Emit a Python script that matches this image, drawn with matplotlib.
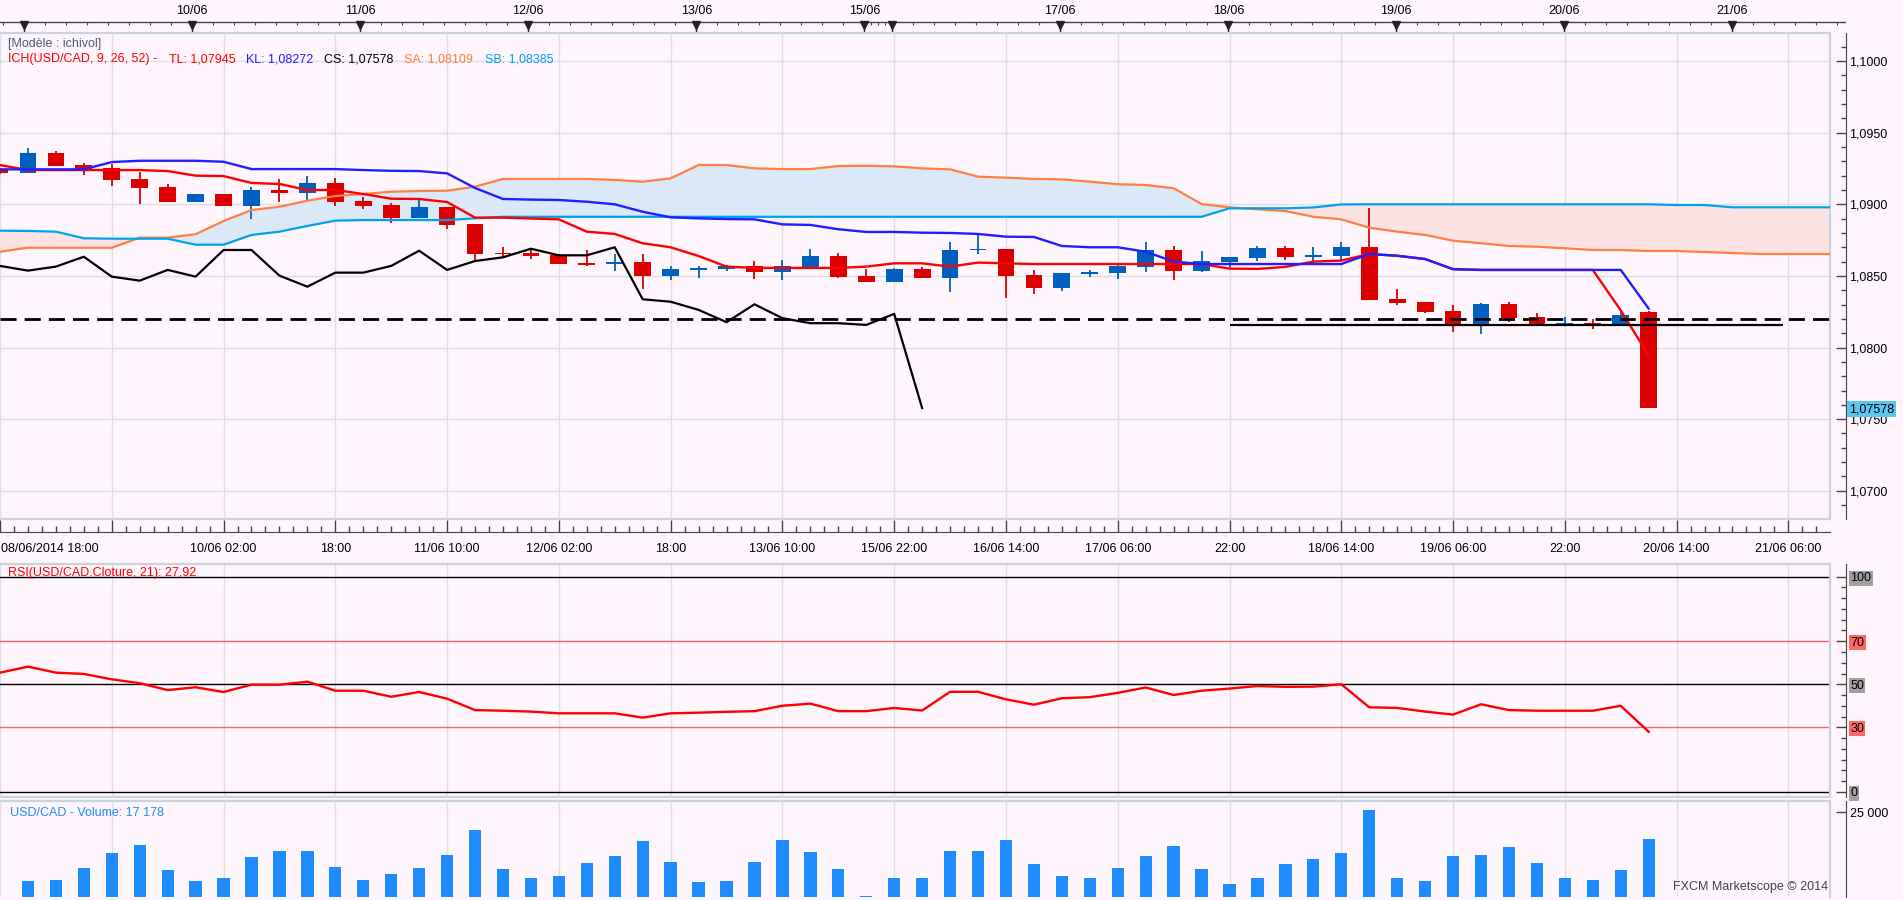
import matplotlib

matplotlib.use("Agg")

import matplotlib.pyplot as plt
import numpy as np


# 4h candles, index 0 = 08/06/2014 18:00
candle_open = [
    1.09244, 1.09221, 1.09358, 1.09274, 1.09251, 1.09177, 1.09121, 1.09018, 1.09072, 1.08990,
    1.09100, 1.09081, 1.09149, 1.09023, 1.08995, 1.08906, 1.08981, 1.08862, 1.08662, 1.08662,
    1.08646, 1.08590, 1.08581, 1.08597, 1.08502, 1.08544, 1.08551, 1.08569, 1.08527, 1.08562,
    1.08639, 1.08502, 1.08458, 1.08548, 1.08488, 1.08679, 1.08688, 1.08507, 1.08418, 1.08516,
    1.08520, 1.08564, 1.08681, 1.08534, 1.08597, 1.08627, 1.08695, 1.08634, 1.08639, 1.08702,
    1.08339, 1.08318, 1.08255, 1.08165, 1.08304, 1.08213, 1.08160, 1.08169, 1.08165, 1.08246,
]
candle_high = [
    1.09253, 1.09395, 1.09372, 1.09290, 1.09281, 1.09225, 1.09142, 1.09072, 1.09072, 1.09121,
    1.09175, 1.09198, 1.09181, 1.09049, 1.09007, 1.09035, 1.08981, 1.08862, 1.08704, 1.08681,
    1.08651, 1.08681, 1.08653, 1.08653, 1.08569, 1.08569, 1.08574, 1.08606, 1.08611, 1.08690,
    1.08658, 1.08551, 1.08555, 1.08564, 1.08737, 1.08798, 1.08688, 1.08541, 1.08520, 1.08541,
    1.08583, 1.08737, 1.08709, 1.08674, 1.08632, 1.08709, 1.08709, 1.08702, 1.08737, 1.08974,
    1.08409, 1.08318, 1.08297, 1.08311, 1.08318, 1.08241, 1.08213, 1.08197, 1.08248, 1.08255,
]
candle_low = [
    1.09211, 1.09216, 1.09265, 1.09205, 1.09128, 1.09002, 1.09018, 1.09018, 1.08990, 1.08899,
    1.09018, 1.09030, 1.08990, 1.08967, 1.08867, 1.08906, 1.08828, 1.08606, 1.08634, 1.08618,
    1.08583, 1.08569, 1.08537, 1.08409, 1.08474, 1.08488, 1.08537, 1.08479, 1.08472, 1.08562,
    1.08488, 1.08458, 1.08458, 1.08488, 1.08388, 1.08653, 1.08348, 1.08376, 1.08395, 1.08495,
    1.08481, 1.08527, 1.08472, 1.08527, 1.08555, 1.08604, 1.08611, 1.08583, 1.08611, 1.08332,
    1.08297, 1.08243, 1.08109, 1.08095, 1.08178, 1.08165, 1.08160, 1.08132, 1.08151, 1.07578,
]
candle_close = [
    1.09221, 1.09358, 1.09267, 1.09244, 1.09170, 1.09116, 1.09018, 1.09072, 1.08990, 1.09100,
    1.09081, 1.09149, 1.09018, 1.08990, 1.08906, 1.08981, 1.08858, 1.08653, 1.08651, 1.08639,
    1.08583, 1.08578, 1.08597, 1.08502, 1.08548, 1.08555, 1.08569, 1.08527, 1.08569, 1.08639,
    1.08493, 1.08458, 1.08548, 1.08488, 1.08681, 1.08688, 1.08502, 1.08418, 1.08520, 1.08527,
    1.08569, 1.08681, 1.08534, 1.08604, 1.08632, 1.08695, 1.08634, 1.08646, 1.08702, 1.08332,
    1.08313, 1.08250, 1.08165, 1.08304, 1.08206, 1.08165, 1.08171, 1.08160, 1.08227, 1.07578,
]

# Ichimoku lines
tenkan = [
    1.09274, 1.09239, 1.09239, 1.09239, 1.09239, 1.09239, 1.09232, 1.09200, 1.09197, 1.09149,
    1.09142, 1.09100, 1.09100, 1.09072, 1.09039, 1.09037, 1.09016, 1.08907, 1.08907, 1.08901,
    1.08895, 1.08809, 1.08793, 1.08728, 1.08700, 1.08639, 1.08565, 1.08556, 1.08556, 1.08556,
    1.08556, 1.08565, 1.08588, 1.08588, 1.08565, 1.08593, 1.08588, 1.08583, 1.08583, 1.08583,
    1.08583, 1.08583, 1.08583, 1.08583, 1.08551, 1.08549, 1.08563, 1.08600, 1.08607, 1.08653,
    1.08641, 1.08618, 1.08547, 1.08542, 1.08542, 1.08542, 1.08542, 1.08542, 1.08260, 1.07945,
]
kijun = [
    1.09244, 1.09244, 1.09244, 1.09244, 1.09295, 1.09304, 1.09304, 1.09304, 1.09297, 1.09246,
    1.09246, 1.09246, 1.09246, 1.09239, 1.09234, 1.09232, 1.09216, 1.09114, 1.09037, 1.09033,
    1.09030, 1.09018, 1.09000, 1.08948, 1.08909, 1.08902, 1.08897, 1.08895, 1.08860, 1.08856,
    1.08826, 1.08807, 1.08807, 1.08802, 1.08800, 1.08793, 1.08774, 1.08772, 1.08709, 1.08700,
    1.08700, 1.08669, 1.08600, 1.08583, 1.08583, 1.08583, 1.08583, 1.08583, 1.08583, 1.08653,
    1.08641, 1.08618, 1.08547, 1.08542, 1.08542, 1.08542, 1.08542, 1.08542, 1.08542, 1.08272,
]
senkou_a = [
    1.08669, 1.08697, 1.08697, 1.08697, 1.08697, 1.08767, 1.08767, 1.08791, 1.08883, 1.08960,
    1.08983, 1.09025, 1.09058, 1.09072, 1.09088, 1.09093, 1.09095, 1.09123, 1.09177, 1.09177,
    1.09177, 1.09177, 1.09170, 1.09158, 1.09181, 1.09274, 1.09274, 1.09251, 1.09246, 1.09246,
    1.09267, 1.09269, 1.09265, 1.09251, 1.09244, 1.09193, 1.09186, 1.09177, 1.09174, 1.09158,
    1.09140, 1.09135, 1.09112, 1.09002, 1.08979, 1.08965, 1.08953, 1.08913, 1.08895, 1.08837,
    1.08809, 1.08786, 1.08746, 1.08728, 1.08709, 1.08704, 1.08693, 1.08681, 1.08681, 1.08674,
    1.08674, 1.08667, 1.08660, 1.08653, 1.08653, 1.08653, 1.08653,
]
senkou_b = [
    1.08816, 1.08814, 1.08809, 1.08763, 1.08760, 1.08760, 1.08760, 1.08718, 1.08718, 1.08786,
    1.08809, 1.08849, 1.08886, 1.08890, 1.08890, 1.08890, 1.08890, 1.08902, 1.08913, 1.08913,
    1.08913, 1.08913, 1.08913, 1.08913, 1.08913, 1.08913, 1.08913, 1.08913, 1.08913, 1.08913,
    1.08913, 1.08913, 1.08913, 1.08913, 1.08913, 1.08913, 1.08913, 1.08913, 1.08913, 1.08913,
    1.08913, 1.08913, 1.08913, 1.08913, 1.08972, 1.08972, 1.08972, 1.08978, 1.08999, 1.09000,
    1.09000, 1.09000, 1.09000, 1.09000, 1.09000, 1.09000, 1.09000, 1.09000, 1.09000, 1.09000,
    1.08995, 1.08995, 1.08979, 1.08979, 1.08979, 1.08979, 1.08979,
]
chikou = [
    1.08570, 1.08537, 1.08565, 1.08634, 1.08495, 1.08467, 1.08542, 1.08495, 1.08681, 1.08681,
    1.08502, 1.08425, 1.08523, 1.08523, 1.08570, 1.08676, 1.08542, 1.08604, 1.08630, 1.08690,
    1.08644, 1.08644, 1.08700, 1.08337, 1.08320, 1.08263, 1.08177, 1.08302, 1.08205, 1.08170,
    1.08170, 1.08158, 1.08235, 1.07578,
]
legend_spans = [1.08109, 1.08385]  # SA, SB as printed in the legend

dashed_level = 1.0820
support_level = 1.08158
support_span = [44, 63.8]

rsi = [
    55.4, 58.2, 55.4, 54.8, 52.3, 50.5, 47.3, 48.6, 46.4, 49.8,
    49.8, 51.2, 47.0, 47.0, 44.2, 46.4, 43.3, 38.0, 37.7, 37.3,
    36.5, 36.5, 36.5, 34.5, 36.5, 36.8, 37.2, 37.5, 40.0, 41.0,
    37.5, 37.5, 39.0, 37.8, 46.5, 46.5, 43.0, 40.5, 43.5, 44.0,
    46.0, 48.5, 45.0, 47.0, 48.0, 49.2, 48.8, 48.9, 50.0, 39.3,
    39.0, 37.3, 35.9, 40.7, 38.0, 37.7, 37.7, 37.7, 40.0, 27.92,
]
rsi_levels = [0, 30, 50, 70, 100]

# volume for candles 1..59
volume = [
    4650, 5000, 8600, 12900, 15400, 7900, 4650, 5700, 11800, 13600,
    13600, 8950, 5000, 6800, 8600, 12500, 19700, 8200, 5700, 6100,
    10000, 12200, 16500, 10400, 4300, 4650, 10400, 16800, 13200, 8200,
    360, 5700, 5700, 13600, 13600, 16800, 9700, 6100, 5700, 8600,
    12200, 15000, 8200, 3900, 5700, 9700, 11100, 12900, 25800, 5700,
    4650, 12200, 12500, 14700, 10000, 5700, 5000, 7900, 17178,
]

time_ticks = list(range(0, 65, 4))
time_labels = [
    "08/06/2014 18:00", "", "10/06 02:00", "18:00", "11/06 10:00", "12/06 02:00",
    "18:00", "13/06 10:00", "15/06 22:00", "16/06 14:00", "17/06 06:00", "22:00",
    "18/06 14:00", "19/06 06:00", "22:00", "20/06 14:00", "21/06 06:00",
]
day_ticks = [1, 7, 13, 19, 25, 31, 32, 38, 44, 50, 56, 62]
day_labels = ["", "10/06", "11/06", "12/06", "13/06", "15/06", "", "17/06",
              "18/06", "19/06", "20/06", "21/06"]


FIG_W, FIG_H = 1903, 900
CANDLE_PX = 28.0
FIRST_CANDLE_PX = -3.7
PRICE_TOP, PRICE_BOTTOM = 1.10196, 1.06803

BG = "#FFF5FC"
GRID = "#DEDEE6"
FRAME = "#C9D3DD"
AXIS = "#444444"
RED = "#DD0000"
BLUE = "#0060C0"

plt.rcParams["font.family"] = ["Liberation Sans", "DejaVu Sans"]
plt.rcParams["font.size"] = 9


def k_at(px):
    return (px - FIRST_CANDLE_PX) / CANDLE_PX


def add_axes(fig, left, top, right, bottom):
    return fig.add_axes([
        left / FIG_W,
        1 - bottom / FIG_H,
        (right - left) / FIG_W,
        (bottom - top) / FIG_H,
    ])


def put_text(fig, x, y, s, **kwargs):
    fig.text(x / FIG_W, 1 - y / FIG_H, s, va="center", **kwargs)


def comma(value, digits):
    return f"{value:.{digits}f}".replace(".", ",")


def style_panel(ax, sides):
    ax.set_facecolor(BG)
    for side in ("top", "right", "bottom", "left"):
        if side in sides:
            ax.spines[side].set_color(FRAME)
            ax.spines[side].set_linewidth(1.6)
        else:
            ax.spines[side].set_visible(False)


fig = plt.figure(figsize=(FIG_W / 100, FIG_H / 100), dpi=100, facecolor=BG)

# ---- top date strip ----
top = add_axes(fig, 0, 0, 1846, 33)
top.set_xlim(k_at(0), k_at(1846))
top.set_ylim(33, 0)
top.axis("off")
top.axhline(21.7, color=AXIS, lw=1.0)
top_minor = np.concatenate([
    np.arange(0.25, 31.01, 0.75), [31.25, 31.5, 31.75], np.arange(32, 66.1, 0.75)
])
top.vlines(top_minor, 21.7, 25.3, color=AXIS, lw=0.8)
top.vlines(day_ticks, 21.7, 33, color="#222222", lw=1.0)
top.plot(day_ticks, [25.0] * len(day_ticks), "v", color="#222222", ms=6)
for pos, label in zip(day_ticks, day_labels):
    top.text(pos, 10.5, label, ha="center", va="center", fontsize=9)

# ---- price panel ----
ax = add_axes(fig, 0, 33, 1830, 519)
style_panel(ax, ("top", "right", "bottom"))
ax.set_xlim(k_at(0), k_at(1830))
ax.set_ylim(PRICE_BOTTOM, PRICE_TOP)
price_major = np.arange(1.0700, 1.10001, 0.005)
ax.set_xticks(time_ticks)
ax.set_yticks(price_major)
ax.tick_params(length=0, labelbottom=False, labelleft=False)
ax.grid(True, color=GRID, lw=1.0)
ax.set_axisbelow(True)

span_x = np.arange(len(senkou_a))
sa = np.array(senkou_a)
sb = np.array(senkou_b)
ax.fill_between(span_x, sa, sb, where=sa >= sb, interpolate=True,
                color="#DBE8F8", lw=0, zorder=1)
ax.fill_between(span_x, sa, sb, where=sa < sb, interpolate=True,
                color="#FDE2E4", lw=0, zorder=1)

idx = np.arange(len(candle_open))
o = np.array(candle_open)
h = np.array(candle_high)
lo = np.array(candle_low)
c = np.array(candle_close)
colors = np.where(c >= o, BLUE, RED)
ax.vlines(idx, lo, h, colors=colors, lw=1.3, zorder=3)
ax.bar(idx, np.maximum(np.abs(c - o), 0.00004), bottom=np.minimum(o, c),
       width=0.6, color=colors, lw=0, zorder=3)

ax.plot(span_x, senkou_a, color="#FF8040", lw=1.6, zorder=4)
ax.plot(span_x, senkou_b, color="#00A2EE", lw=1.6, zorder=4)
ax.plot(idx, tenkan, color="#FF0000", lw=1.7, zorder=5)
ax.plot(idx, kijun, color="#1F1FFF", lw=1.7, zorder=5)
ax.plot(np.arange(len(chikou)), chikou, color="black", lw=1.6, zorder=5)

ax.axhline(dashed_level, color="black", lw=2.0, dashes=(5.8, 2.9), zorder=6)
ax.hlines(support_level, support_span[0], support_span[1], color="black",
          lw=1.6, zorder=6)

price_axis = ax.secondary_yaxis(1846 / 1830)
price_axis.set_yticks(price_major, labels=[comma(v, 4) for v in price_major])
price_axis.set_yticks(np.arange(1.068, 1.1021, 0.001), minor=True)
price_axis.tick_params(which="major", direction="in", length=7, width=1,
                       color=AXIS, labelsize=9, pad=2)
price_axis.tick_params(which="minor", direction="in", length=3.5, width=1,
                       color=AXIS)
price_axis.spines["right"].set_color(AXIS)

# the first time label sits at the clipped left edge, so it is written apart
time_axis = ax.secondary_xaxis(-13 / 486)
time_axis.set_xticks(time_ticks, labels=[""] + time_labels[1:])
time_axis.set_xticks(np.arange(0, 66, 0.5), minor=True)
time_axis.tick_params(which="major", direction="in", length=9, width=1,
                      color=AXIS, labelsize=9, pad=8)
time_axis.tick_params(which="minor", direction="in", length=4, width=1,
                      color=AXIS)
time_axis.spines["bottom"].set_color(AXIS)
put_text(fig, 1, 549, time_labels[0], ha="left", fontsize=9)

put_text(fig, 8, 43.5, "[Modèle : ichivol]", color="#505A78", fontsize=9)
legend_items = [
    (8, "ICH(USD/CAD, 9, 26, 52) -", "#FF0000"),
    (169, "TL: " + comma(tenkan[-1], 5), "#FF0000"),
    (246, "KL: " + comma(kijun[-1], 5), "#2020FF"),
    (324, "CS: " + comma(chikou[-1], 5), "black"),
    (404, "SA: " + comma(legend_spans[0], 5), "#FF8040"),
    (485, "SB: " + comma(legend_spans[1], 5), "#00A2EE"),
]
for x, label, color in legend_items:
    put_text(fig, x, 59.3, label, color=color, fontsize=9)

put_text(fig, 1849, 409, comma(candle_close[-1], 5), fontsize=9,
         bbox=dict(facecolor="#5CC6F2", edgecolor="none", pad=1.5))

# ---- RSI panel ----
ar = add_axes(fig, 0, 564, 1830, 797)
style_panel(ar, ("top", "right", "bottom"))
ar.set_xlim(k_at(0), k_at(1830))
ar.set_ylim(-2.4, 105.9)
ar.set_xticks(time_ticks)
ar.set_yticks([])
ar.tick_params(length=0, labelbottom=False)
ar.grid(True, axis="x", color=GRID, lw=1.0)
ar.set_axisbelow(True)
level_colors = ["black", "#F06868", "black", "#F06868", "black"]
for level, color in zip(rsi_levels, level_colors):
    ar.axhline(level, color=color, lw=1.0, zorder=2)
ar.plot(idx, rsi, color="#FF0000", lw=1.7, zorder=3)

rsi_axis = ar.secondary_yaxis(1846 / 1830)
rsi_axis.set_yticks(rsi_levels, labels=[str(v) for v in rsi_levels])
rsi_axis.set_yticks(np.arange(0, 101, 5), minor=True)
rsi_axis.tick_params(which="major", direction="in", length=7, width=1,
                     color=AXIS, labelsize=9, pad=3)
rsi_axis.tick_params(which="minor", direction="in", length=3.5, width=1,
                     color=AXIS)
rsi_axis.spines["right"].set_color(AXIS)
box_colors = ["#A0A0A0", "#FF6666", "#A0A0A0", "#FF6666", "#A0A0A0"]
for label, color in zip(rsi_axis.get_yticklabels(), box_colors):
    label.set_bbox(dict(facecolor=color, edgecolor="none", pad=1.0))
put_text(fig, 8, 573,
         "RSI(USD/CAD.Cloture, 21): " + comma(rsi[-1], 2),
         color="#FF0000", fontsize=9)

# ---- volume panel ----
av = add_axes(fig, 0, 801, 1830, 897)
style_panel(av, ("top", "right"))
av.set_xlim(k_at(0), k_at(1830))
av.set_ylim(0, 28400)
av.set_xticks(time_ticks)
av.set_yticks([])
av.tick_params(length=0, labelbottom=False)
av.grid(True, axis="x", color=GRID, lw=1.0)
av.set_axisbelow(True)
vol_idx = np.arange(1, len(volume) + 1)
av.bar(vol_idx, volume, width=0.44, color="#1E8CFF", lw=0, zorder=2)

vol_axis = av.secondary_yaxis(1846 / 1830)
vol_axis.set_yticks([25000], labels=["25 000"])
vol_axis.tick_params(direction="in", length=7, width=1, color=AXIS,
                     labelsize=9, pad=3)
vol_axis.spines["right"].set_color(AXIS)
put_text(fig, 10, 813,
         "USD/CAD - Volume: " + f"{volume[-1]:,}".replace(",", " "),
         color="#1E8CFF", fontsize=9)
put_text(fig, 1828, 887, "FXCM Marketscope © 2014", ha="right",
         color="#444444", fontsize=9)

fig.savefig("out.png", dpi=100, facecolor=BG)
